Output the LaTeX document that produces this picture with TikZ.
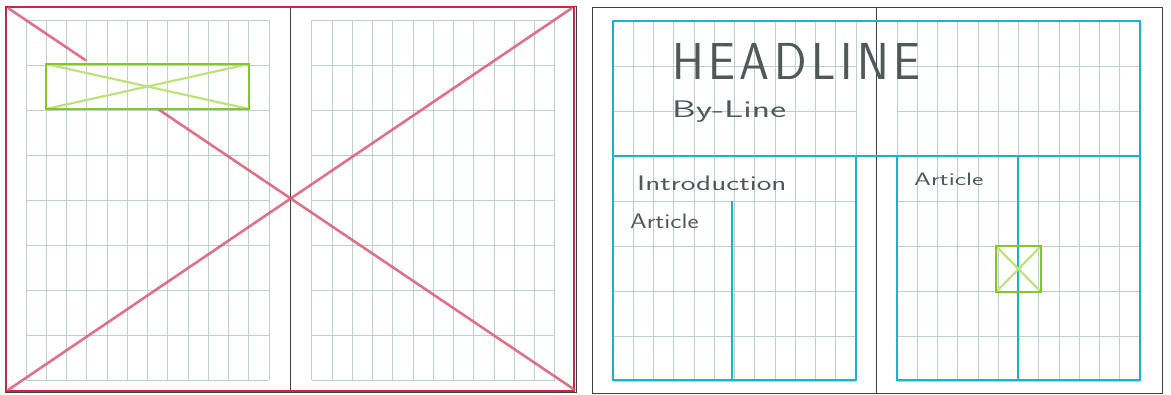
\documentclass[tikz,border=0pt]{standalone}
\usepackage{fontspec}
\usepackage{graphicx}
\definecolor{gridc}{HTML}{BFCFD0}
\definecolor{redf}{HTML}{C42A45}
\definecolor{redx}{HTML}{D85A74}
\definecolor{cyanc}{HTML}{18B4CF}
\definecolor{greenb}{HTML}{86C626}
\definecolor{greenx}{HTML}{BDE27A}
\definecolor{pencil}{HTML}{505858}
\newcommand{\gp}{\hspace{5pt}}
\tikzset{
  gridline/.style={draw=gridc, line width=0.8pt},
  frameline/.style={draw=black!75, line width=0.8pt},
  redframe/.style={draw=redf, line width=2.8pt},
  redcross/.style={draw=redx, line width=2.6pt, opacity=0.85},
  cyanbox/.style={draw=cyanc, line width=2.2pt},
  greenbox/.style={draw=greenb, line width=2pt},
  greencross/.style={draw=greenx, line width=2.2pt},
  hand/.style={text=pencil, inner sep=0pt, font=\sffamily},
}
\begin{document}
\begin{tikzpicture}[x=1pt,y=-1pt]
\useasboundingbox (0,0) rectangle (1171,394);
\fill[white] (0,0) rectangle (1171,394);
% grids
\foreach \gx/\gy in {26/20, 311.7/20, 613/21, 897/21}{
  \foreach \i in {0,...,12}{
    \draw[gridline] ({\gx+20.25*\i},\gy) -- ({\gx+20.25*\i},{\gy+360});
  }
  \foreach \j in {0,...,8}{
    \draw[gridline] (\gx,{\gy+45*\j}) -- ({\gx+243},{\gy+45*\j});
  }
}
% black page frames and folds
\draw[frameline] (5,6) rectangle (576,392);
\draw[frameline] (290,6) -- (290,392);
\draw[frameline] (592,7) rectangle (1162,393);
\draw[frameline] (876,7) -- (876,393);
% left spread: red frame and cross
\draw[redframe] (6,7) rectangle (574,391);
\coordinate (tl) at (8,8);
\coordinate (g1) at (86,60.5);
\coordinate (g2) at (157,108.4);
\coordinate (br) at (575,390);
\coordinate (bl) at (8,390);
\coordinate (tr) at (572,8);
\draw[redcross] (tl) -- (g1);
\draw[redcross] (g2) -- (br);
\draw[redcross] (bl) -- (tr);
% green image box
\coordinate (ga) at (46,64);
\coordinate (gb) at (249,109);
\draw[greencross] (ga) -- (gb);
\draw[greencross] (46,109) -- (249,64);
\draw[greenbox] (ga) rectangle (gb);
% right spread: cyan layout
\draw[cyanbox] (613,21) rectangle (1140,156);
\draw[cyanbox] (613,156) rectangle (856,380);
\draw[cyanbox] (732,201) -- (732,380);
\draw[cyanbox] (897,156) rectangle (1140,380);
\draw[cyanbox] (1018,156) -- (1018,380);
% small green image box
\coordinate (sa) at (996,246);
\coordinate (sb) at (1041,292);
\draw[greencross] (sa) -- (sb);
\draw[greencross] (996,292) -- (1041,246);
\draw[greenbox] (sa) rectangle (sb);
% texts
\node[hand, anchor=base west] (head) at (672,79)
  {\fontsize{52}{52}\selectfont\scalebox{0.92}[1]{H\gp E\gp A\gp D\gp L\gp I\gp N\gp E}};
\node[hand, anchor=base west] (byline) at (672,117)
  {\fontsize{24}{24}\selectfont\scalebox{1.58}[1]{By-Line}};
\node[hand, anchor=base west] (intro) at (637,190)
  {\fontsize{21}{21}\selectfont\scalebox{1.48}[1]{Introduction}};
\node[hand, anchor=base west] (art1) at (630,228)
  {\fontsize{21}{21}\selectfont\scalebox{1.27}[1]{Article}};
\node[hand, anchor=base west] (art2) at (914,185)
  {\fontsize{18}{18}\selectfont\scalebox{1.5}[1]{Article}};
\end{tikzpicture}
\end{document}
